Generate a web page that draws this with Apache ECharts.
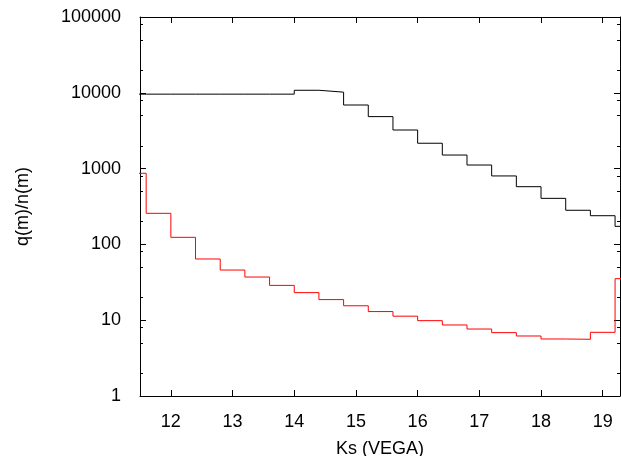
<!DOCTYPE html>
<html>
<head>
<meta charset="utf-8">
<script src="https://cdn.jsdelivr.net/npm/echarts@6/dist/echarts.min.js"></script>
<style>html,body{margin:0;padding:0;background:#fff}#c{width:621px;height:456px}</style>
</head>
<body>
<div id="c"></div>
<script>
// Bin edges (Ks mag), 21 bins of width 0.4
const binEdges = [11.2, 11.6, 12.0, 12.4, 12.8, 13.2, 13.6, 14.0, 14.4, 14.8, 15.2,
  15.6, 16.0, 16.4, 16.8, 17.2, 17.6, 18.0, 18.4, 18.8, 19.2, 19.6];
// Black histogram q(m)/n(m)
const blackValues = [9600, 9600, 9600, 9600, 9600, 9600, 9600, 10800, 10200, 6900, 4850,
  3230, 2160, 1510, 1115, 800, 577, 405, 282, 239, 173];
// Red histogram q(m)/n(m)
const redValues = [867, 257, 124, 64.2, 45.9, 37.1, 28.8, 23.1, 18.7, 15.5, 13.0,
  11.3, 9.86, 8.65, 7.65, 6.85, 6.19, 5.65, 5.6, 6.92, 35.3];
// Axis ticks
const xTicks = [12, 13, 14, 15, 16, 17, 18, 19];
const yMinorTicks = [2, 5, 8, 20, 50, 80, 200, 500, 800, 2000, 5000, 8000, 20000, 50000, 80000];

function steps(vals) {
  const d = vals.map((v, i) => [binEdges[i], v]);
  d.push([binEdges[vals.length], vals[vals.length - 1]]);
  return d;
}

const font = 'Liberation Sans';
const chart = echarts.init(document.getElementById('c'));
const xBase = {
  type: 'value', min: 11.5, max: 19.28,
  splitLine: { show: false },
  axisLine: { show: true, onZero: false, lineStyle: { color: '#000', width: 1 } },
  axisTick: { show: true, inside: true, length: 6, customValues: xTicks, lineStyle: { color: '#000' } }
};
const yBase = {
  type: 'log', logBase: 10, min: 1, max: 100000,
  splitLine: { show: false }
};
// minor ticks drawn on a decoration-only axis spanning log10(1)..log10(100000)
const minorLog = yMinorTicks.map(v => Math.log10(v));
const yMinorBase = {
  type: 'value', min: 0, max: 5,
  splitLine: { show: false },
  axisLine: { show: false, onZero: false },
  axisTick: { show: true, inside: true, length: 3, customValues: minorLog, lineStyle: { color: '#000' } },
  axisLabel: { show: false }
};
chart.setOption({
  animation: false,
  textStyle: { fontFamily: font },
  grid: { left: 140, right: 1, top: 17, bottom: 60, containLabel: false, outerBoundsMode: 'none' },
  xAxis: [
    Object.assign({}, xBase, {
      position: 'bottom',
      name: 'Ks (VEGA)', nameLocation: 'middle', nameGap: 44,
      nameTextStyle: { fontFamily: font, fontSize: 18, color: '#000' },
      axisLabel: { show: true, customValues: xTicks, margin: 17, fontFamily: font, fontSize: 18, color: '#000' }
    }),
    Object.assign({}, xBase, { position: 'top', axisLabel: { show: false } })
  ],
  yAxis: [
    Object.assign({}, yBase, {
      position: 'left',
      name: 'q(m)/n(m)', nameLocation: 'middle', nameGap: 108, nameRotate: 90,
      nameTextStyle: { fontFamily: font, fontSize: 18, color: '#000' },
      axisLine: { show: true, onZero: false, lineStyle: { color: '#000', width: 1 } },
      axisTick: { show: true, inside: true, length: 6, lineStyle: { color: '#000' } },
      axisLabel: { show: true, margin: 19, fontFamily: font, fontSize: 18, color: '#000',
        formatter: v => String(Math.round(v)) }
    }),
    Object.assign({}, yBase, {
      position: 'right',
      axisLine: { show: true, onZero: false, lineStyle: { color: '#000', width: 1 } },
      axisTick: { show: true, inside: true, length: 6, lineStyle: { color: '#000' } },
      axisLabel: { show: false }
    }),
    Object.assign({}, yMinorBase, { position: 'left' }),
    Object.assign({}, yMinorBase, { position: 'right' })
  ],
  series: [
    {
      type: 'line', step: 'end', data: steps(blackValues), showSymbol: false, symbol: 'none',
      lineStyle: { color: '#000', width: 1 }, xAxisIndex: 0, yAxisIndex: 0, clip: true
    },
    {
      type: 'line', step: 'end', data: steps(redValues), showSymbol: false, symbol: 'none',
      lineStyle: { color: '#ff0000', width: 1 }, xAxisIndex: 0, yAxisIndex: 0, clip: true
    }
  ]
});
</script>
</body>
</html>
